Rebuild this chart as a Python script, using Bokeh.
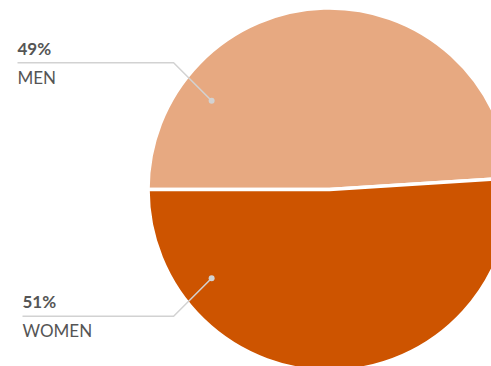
import math
from bokeh.plotting import figure
from bokeh.models import Range1d, ColumnDataSource
from bokeh.core.properties import value
from bokeh.embed import file_html
from bokeh.resources import INLINE

# ---- data ----
categories = ["MEN", "WOMEN"]
shares = [49, 51]
pct_labels = ["49%", "51%"]
colors = ["#E7A981", "#CD5400"]

# ---- layout ----
W, H = 491, 366
CX, CY = 329, 177  # pie centre in plot coords
R = 181.5

p = figure(width=W, height=H, output_backend="svg", toolbar_location=None,
           x_range=Range1d(0, W), y_range=Range1d(0, H), min_border=0)
p.axis.visible = False
p.grid.visible = False
p.outline_line_color = None
p.background_fill_color = "white"
p.border_fill_color = "white"

total = sum(shares)
sweeps = [2 * math.pi * s / total for s in shares]
# first slice ends at 180 deg (drawn clockwise from the left), second continues
starts = [math.pi - sweeps[0], math.pi]
ends = [math.pi, math.pi + sweeps[1]]

src = ColumnDataSource(dict(start=starts, end=ends, color=colors))
p.wedge(x=CX, y=CY, radius=R, start_angle="start", end_angle="end",
        fill_color="color", line_color="white", line_width=3.5, source=src)

# leader lines + labels
anchor_angles = [math.radians(143), math.radians(217)]
text_x = [17, 22]
for i, cat in enumerate(categories):
    a = anchor_angles[i]
    dx = CX + 0.82 * 180 * math.cos(a)
    dy = CY + 0.82 * 180 * math.sin(a)
    sgn = 1 if math.sin(a) > 0 else -1
    ex, ey = dx - 38, dy + sgn * 38
    p.line([text_x[i], ex, dx], [ey, ey, dy], line_color="#d2d2d2", line_width=1.5)
    p.scatter([dx], [dy], size=6, fill_color="#d2d2d2", line_color=None)
    p.text([text_x[i]], [ey + 14.5], text=[pct_labels[i]], text_font=value("Lato"),
           text_font_size="17px", text_font_style="bold", text_color="#555555",
           text_baseline="middle", text_align="left")
    p.text([text_x[i]], [ey - 14.5], text=[cat], text_font=value("Lato"),
           text_font_size="17px", text_color="#555555",
           text_baseline="middle", text_align="left")

open("out.html", "w").write(file_html(p, INLINE))
